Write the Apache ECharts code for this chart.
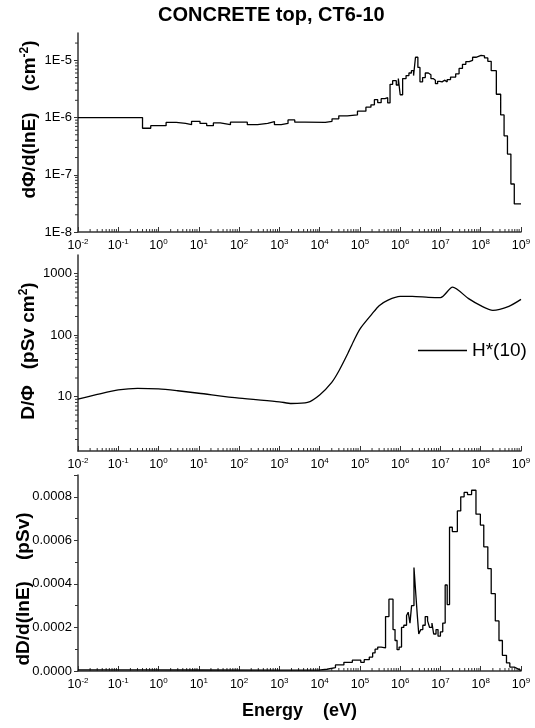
<!DOCTYPE html>
<html><head><meta charset="utf-8">
<script src="https://cdn.jsdelivr.net/npm/echarts@6/dist/echarts.min.js"></script>
<style>html,body{margin:0;padding:0;background:#fff}#c{width:535px;height:728px}</style>
</head><body><div id="c"></div>
<script>
// ---------- DATA ----------
const titleText = 'CONCRETE top, CT6-10';
const xTickExponents = [-2, -1, 0, 1, 2, 3, 4, 5, 6, 7, 8, 9];

// Panel 1: fluence spectrum dPhi/d(lnE), bin edges (eV) and values (cm^-2)
const fluxEdges = [0.01, 0.4, 0.64, 1.54, 2.75, 4.7, 6.6, 10.7, 15.7, 23, 34, 61, 160, 287, 513, 755, 1110, 1640, 2410, 4320, 13800, 20300, 29900, 48500, 86900, 1.41e5, 1.88e5, 2.29e5, 2.77e5, 3.37e5, 4.2e5, 4.9e5, 5.6e5, 6.5e5, 8.0e5, 9.0e5, 1.0e6, 1.15e6, 1.4e6, 1.65e6, 1.9e6, 2.15e6, 2.4e6, 2.75e6, 3.1e6, 3.6e6, 4.2e6, 5.0e6, 5.8e6, 6.6e6, 7.5e6, 8.5e6, 9.6e6, 1.10e7, 1.26e7, 1.47e7, 1.78e7, 2.39e7, 2.90e7, 3.52e7, 4.27e7, 5.18e7, 6.28e7, 7.62e7, 1.02e8, 1.24e8, 1.50e8, 1.82e8, 2.44e8, 3.13e8, 3.80e8, 4.61e8, 5.61e8, 6.81e8, 1e9];
const fluxValues = [1.0e-6, 6.5e-7, 7.2e-7, 8.2e-7, 7.9e-7, 7.5e-7, 8.6e-7, 7.9e-7, 7.2e-7, 8.05e-7, 7.5e-7, 8.3e-7, 7.5e-7, 7.9e-7, 8.5e-7, 7.5e-7, 7.9e-7, 9.1e-7, 8.3e-7, 8.2e-7, 8.6e-7, 9.5e-7, 1.07e-6, 1.11e-6, 1.29e-6, 1.52e-6, 1.67e-6, 2.05e-6, 1.82e-6, 2.14e-6, 2.22e-6, 1.8e-6, 3.8e-6, 4.4e-6, 3.7e-6, 4.8e-6, 2.5e-6, 4.8e-6, 5.4e-6, 6.0e-6, 6.6e-6, 5.4e-6, 1.13e-5, 7.5e-6, 4.2e-6, 5.0e-6, 6.0e-6, 5.6e-6, 4.8e-6, 4.5e-6, 3.9e-6, 4.3e-6, 4.2e-6, 4.5e-6, 4.2e-6, 4.6e-6, 5.1e-6, 5.8e-6, 7.2e-6, 8.5e-6, 9.5e-6, 1.0e-5, 1.13e-5, 1.22e-5, 1.2e-5, 1.1e-5, 9.6e-6, 6.6e-6, 2.55e-6, 1.11e-6, 4.8e-7, 2.3e-7, 6.9e-8, 3.1e-8];

// Panel 2: fluence-to-dose conversion coefficient H*(10) (pSv cm^2)
const h10Energy = [0.01, 0.03, 0.1, 0.3, 1, 3, 10, 100, 1000, 2000, 5000, 1e4, 2e4, 3e4, 5e4, 7e4, 1e5, 2e5, 3e5, 5e5, 1e6, 2e6, 5e6, 1e7, 2e7, 5e7, 1e8, 2e8, 5e8, 1e9];
const h10Values = [9.1, 10.8, 12.8, 13.6, 13.3, 12.4, 11.3, 9.4, 8.2, 7.7, 8.0, 10.6, 17, 26, 50, 80, 125, 220, 300, 370, 425, 425, 410, 405, 600, 390, 300, 252, 293, 380];
const h10Name = 'H*(10)';

// Panel 3: dose spectrum dD/d(lnE), bin edges (eV) and values (pSv)
const doseEdges = [0.01, 0.4, 10, 1000, 9350, 15200, 24700, 40000, 64900, 1.05e5, 1.28e5, 1.71e5, 2.07e5, 2.38e5, 2.77e5, 3.37e5, 4.33e5, 5.26e5, 6.64e5, 7.45e5, 8.37e5, 9.4e5, 1.08e6, 1.23e6, 1.44e6, 1.58e6, 1.75e6, 1.92e6, 2.2e6, 2.45e6, 2.65e6, 2.89e6, 3.24e6, 3.65e6, 4.18e6, 4.79e6, 5.37e6, 6.15e6, 6.78e6, 7.76e6, 8.71e6, 9.98e6, 1.14e7, 1.31e7, 1.47e7, 1.68e7, 1.97e7, 2.63e7, 3.19e7, 3.87e7, 4.70e7, 5.93e7, 7.62e7, 9.8e7, 1.19e8, 1.50e8, 1.82e8, 2.30e8, 2.84e8, 3.45e8, 4.36e8, 5.28e8, 6.81e8, 8.57e8, 1e9];
const doseValues = [5e-6, 4.5e-6, 4.2e-6, 4e-6, 8e-6, 1.5e-5, 2.8e-5, 4.0e-5, 5.0e-5, 4.0e-5, 5.2e-5, 6.4e-5, 8.3e-5, 1.0e-4, 1.1e-4, 1.06e-4, 2.5e-4, 3.3e-4, 1.9e-4, 1.4e-4, 0.98e-4, 1.1e-4, 2.0e-4, 2.1e-4, 2.55e-4, 2.7e-4, 2.2e-4, 3.0e-4, 4.75e-4, 3.5e-4, 2.6e-4, 1.7e-4, 1.9e-4, 2.1e-4, 2.5e-4, 2.3e-4, 2.0e-4, 2.2e-4, 1.7e-4, 1.9e-4, 1.6e-4, 1.8e-4, 2.2e-4, 3.95e-4, 3.05e-4, 6.6e-4, 6.4e-4, 7.35e-4, 8.0e-4, 8.2e-4, 8.1e-4, 8.3e-4, 7.2e-4, 6.7e-4, 5.7e-4, 4.7e-4, 3.55e-4, 2.3e-4, 1.4e-4, 0.72e-4, 0.37e-4, 1.8e-5, 0.9e-5, 0.3e-5];

// ---------- BUILD ----------
const FONT = "'Liberation Sans', Arial, Helvetica, sans-serif";
const AX = '#333';
const L = [78, 14];                 // grid left / right
const gridBase = {left: L[0], right: L[1], containLabel: false, outerBoundsMode: 'none'};
const grids = [
  Object.assign({top: 33, height: 199}, gridBase),
  Object.assign({top: 255, height: 196}, gridBase),
  Object.assign({top: 475, height: 196}, gridBase)
];
const X_MIN = xTickExponents[0], X_MAX = xTickExponents[xTickExponents.length - 1];

function stepData(edges, vals) {
  const n = Math.min(vals.length, edges.length - 1);
  const d = [];
  for (let i = 0; i < n; i++) d.push([Math.log10(edges[i]), vals[i]]);
  d.push([Math.log10(edges[n]), vals[n - 1]]);
  return d;
}

const xRich = {
  b: {fontSize: 12.5, fontFamily: FONT, color: '#000'},
  s: {fontSize: 8, fontFamily: FONT, color: '#000', padding: [0, 0, 7, 0]}
};
function xAxis(i, extra) {
  return Object.assign({
    type: 'value', gridIndex: i, min: X_MIN, max: X_MAX, interval: 1,
    axisLine: {show: true, onZero: false, lineStyle: {color: AX, width: 1.5}},
    axisTick: {show: true, inside: true, length: 5, lineStyle: {color: AX, width: 1}},
    splitLine: {show: false},
    axisLabel: {margin: 6, formatter: v => '{b|10}{s|' + Math.round(v) + '}', rich: xRich}
  }, extra || {});
}
function nameStyle(pad) {
  return {fontSize: 19, fontWeight: 'bold', fontFamily: FONT, color: '#000', padding: pad,
    rich: {n: {fontSize: 19, fontWeight: 'bold', fontFamily: FONT, color: '#000'},
           s: {fontSize: 12, fontWeight: 'bold', fontFamily: FONT, color: '#000', padding: [0, 0, 10, 0]}}};
}
const labelStyle = {color: '#000', fontSize: 13, fontFamily: FONT, margin: 6};

function minorX(i, yBase) {
  const d = [];
  for (let k = X_MIN; k < X_MAX; k++) for (let m = 2; m <= 9; m++) d.push([k + Math.log10(m), yBase]);
  return {
    type: 'custom', xAxisIndex: i, yAxisIndex: i, silent: true, clip: false, data: d,
    renderItem: (p, api) => {
      const c = api.coord([api.value(0), api.value(1)]);
      return {type: 'line', shape: {x1: c[0], y1: c[1], x2: c[0], y2: c[1] - 3}, style: {stroke: AX, lineWidth: 1}};
    }
  };
}
function minorYLog(i, lo, hi) {
  const d = [];
  for (let k = Math.floor(Math.log10(lo)); k <= Math.ceil(Math.log10(hi)); k++)
    for (let m = 2; m <= 9; m++) { const v = m * Math.pow(10, k); if (v > lo && v < hi) d.push([X_MIN, v]); }
  return {
    type: 'custom', xAxisIndex: i, yAxisIndex: i, silent: true, clip: false, data: d,
    renderItem: (p, api) => {
      const c = api.coord([api.value(0), api.value(1)]);
      return {type: 'line', shape: {x1: c[0] - 3, y1: c[1], x2: c[0], y2: c[1]}, style: {stroke: AX, lineWidth: 1}};
    }
  };
}

const yCommon = {
  axisLine: {show: true, onZero: false, lineStyle: {color: AX, width: 1.5}},
  axisTick: {show: true, inside: false, length: 4, lineStyle: {color: AX, width: 1}},
  splitLine: {show: false},
  nameLocation: 'middle', nameRotate: 90, nameMoveOverlap: false
};

const chart = echarts.init(document.getElementById('c'), null, {renderer: 'canvas'});
chart.setOption({
  backgroundColor: '#fff',
  animation: false,
  title: {text: titleText, left: 158, top: 5, padding: 0,
    textStyle: {fontSize: 20, fontWeight: 'bold', fontFamily: FONT, color: '#000'}},
  legend: {
    data: [{name: h10Name, icon: 'rect'}], left: 418, top: 341, padding: 0,
    itemWidth: 49, itemHeight: 1.5, itemGap: 4,
    textStyle: {fontSize: 19, fontFamily: FONT, color: '#000'}
  },
  grid: grids,
  xAxis: [
    xAxis(0), xAxis(1),
    xAxis(2, {name: 'Energy    (eV)', nameLocation: 'middle', nameGap: 31,
      nameTextStyle: {fontSize: 18, fontWeight: 'bold', fontFamily: FONT, color: '#000'}})
  ],
  yAxis: [
    Object.assign({}, yCommon, {
      type: 'log', logBase: 10, gridIndex: 0, min: 1e-8, max: 3e-5,
      name: '{n|d\u03A6/d(lnE)    (cm}{s|-2}{n|)}', nameGap: 37, nameTextStyle: nameStyle([0, 0, 0, 26]),
      axisLabel: Object.assign({}, labelStyle, {showMaxLabel: false,
        formatter: v => '1E' + Math.round(Math.log10(v))})
    }),
    Object.assign({}, yCommon, {
      type: 'log', logBase: 10, gridIndex: 1, min: 1.3, max: 2000,
      name: '{n|D/\u03A6   (pSv cm}{s|2}{n|)}', nameGap: 38, nameTextStyle: nameStyle([0, 0, 0, 4]),
      axisLabel: Object.assign({}, labelStyle, {showMaxLabel: false, showMinLabel: false,
        formatter: v => String(Math.round(v))})
    }),
    Object.assign({}, yCommon, {
      type: 'value', gridIndex: 2, min: 0, max: 0.0009, interval: 0.0002,
      name: '{n|dD/d(lnE)    (pSv)}', nameGap: 45, nameTextStyle: nameStyle([0, 32, 0, 0]),
      minorTick: {show: true, splitNumber: 2, length: 3, lineStyle: {color: AX}},
      axisLabel: Object.assign({}, labelStyle, {showMaxLabel: false,
        formatter: v => v.toFixed(4)})
    })
  ],
  series: [
    {type: 'line', name: 'flux', xAxisIndex: 0, yAxisIndex: 0, step: 'end', symbol: 'none',
      lineStyle: {color: '#000', width: 1.3}, itemStyle: {color: '#000'},
      data: stepData(fluxEdges, fluxValues)},
    {type: 'line', name: h10Name, xAxisIndex: 1, yAxisIndex: 1, symbol: 'none', smooth: 0.25,
      lineStyle: {color: '#000', width: 1.3}, itemStyle: {color: '#000'},
      data: h10Energy.map((e, i) => [Math.log10(e), h10Values[i]])},
    {type: 'line', name: 'dose', xAxisIndex: 2, yAxisIndex: 2, step: 'end', symbol: 'none',
      lineStyle: {color: '#000', width: 1.3}, itemStyle: {color: '#000'},
      data: stepData(doseEdges, doseValues)},
    minorX(0, 1e-8), minorX(1, 1.3), minorX(2, 0),
    minorYLog(0, 1e-8, 3e-5), minorYLog(1, 1.3, 2000)
  ]
});
</script></body></html>
